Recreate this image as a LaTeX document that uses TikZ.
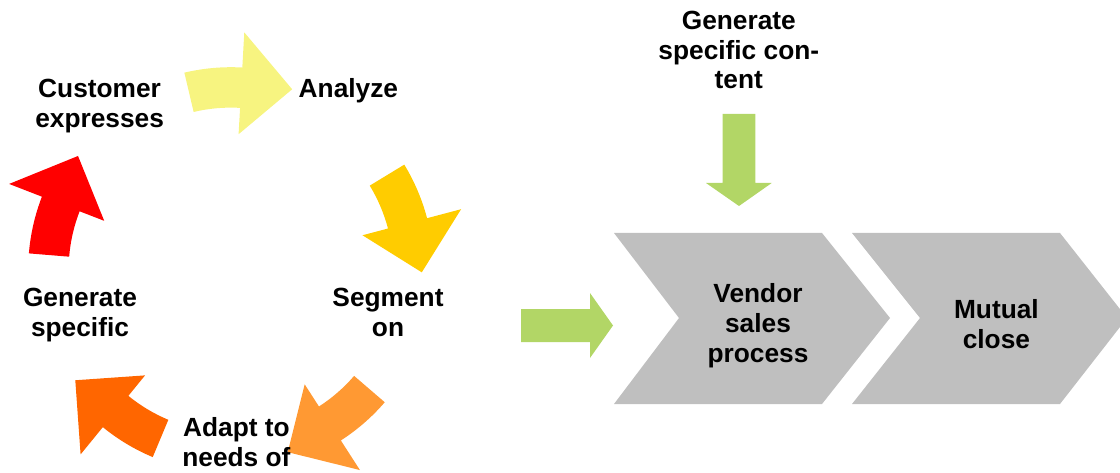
\documentclass[tikz,border=0pt]{standalone}
\usepackage{fontspec}
\setsansfont{Liberation Sans}
\usetikzlibrary{positioning}
\definecolor{cycred}{RGB}{255,0,0}
\definecolor{cycyel}{RGB}{247,244,128}
\definecolor{cycgold}{RGB}{255,204,0}
\definecolor{cyclor}{RGB}{255,153,51}
\definecolor{cycdor}{RGB}{255,102,0}
\definecolor{salgrn}{RGB}{178,214,102}
\definecolor{salgray}{RGB}{191,191,191}
\tikzset{
  lbl/.style={
    font=\fontsize{18.7}{21.3}\selectfont\sffamily\bfseries,
    align=center, inner sep=0pt, text=black
  },
  chev/.style={fill=salgray},
  garr/.style={fill=salgrn}
}
% curved block arrow of the cycle: colour, angle of the tail
\newcommand{\cycarrow}[2]{%
  \fill[#1, shift={(5.775,5.05)}] (#2:4.06)
    arc[start angle=#2, end angle=#2-16.5, radius=4.06]
    -- (#2-16.5:3.4) -- (#2-32:4.77) -- (#2-16.5:5.95) -- (#2-16.5:5.07)
    arc[start angle=#2-16.5, end angle=#2, radius=5.07] -- cycle;}

\begin{document}
\begin{tikzpicture}[x=1cm,y=1cm]
  \useasboundingbox (0,0) rectangle (28,11.8);
  % cycle
  \cycarrow{cycred}{175.3}
  \cycarrow{cycyel}{103.3}
  \cycarrow{cycgold}{31.3}
  \cycarrow{cyclor}{-40.7}
  \cycarrow{cycdor}{-112.7}
  \node[lbl] (cust) at (2.49,9.14) {Customer\\expresses};
  \node[lbl] (analyze) at (8.71,9.54) {Analyze};
  \node[lbl] (segment) at (9.70,4.00) {Segment\\on};
  \node[lbl] (adapt) at (5.91,0.75) {Adapt to\\needs of};
  \node[lbl] (genspec) at (2.00,3.93) {Generate\\specific};
  % process chevrons
  \fill[chev] (15.35,5.975) -- (20.55,5.975) -- (22.25,3.85) -- (20.55,1.7)
    -- (15.35,1.7) -- (16.975,3.85) -- cycle;
  \fill[chev] (21.3,5.975) -- (26.5,5.975) -- (28.175,3.85) -- (26.5,1.7)
    -- (21.3,1.7) -- (23.0,3.85) -- cycle;
  \node[lbl] (vendor) at (18.95,3.66) {Vendor\\sales\\process};
  \node[lbl] (mutual) at (24.91,3.70) {Mutual\\close};
  % green arrows
  \fill[garr] (13.025,3.25) -- (14.75,3.25) -- (14.75,2.85) -- (15.325,3.6625)
    -- (14.75,4.475) -- (14.75,4.075) -- (13.025,4.075) -- cycle;
  \fill[garr] (18.0675,8.95) -- (18.8825,8.95) -- (18.8825,7.225) -- (19.2925,7.225)
    -- (18.475,6.65) -- (17.65,7.225) -- (18.0675,7.225) -- cycle;
  \node[lbl] (gencontent) at (18.47,10.55) {Generate\\specific con-\\tent};
\end{tikzpicture}
\end{document}
